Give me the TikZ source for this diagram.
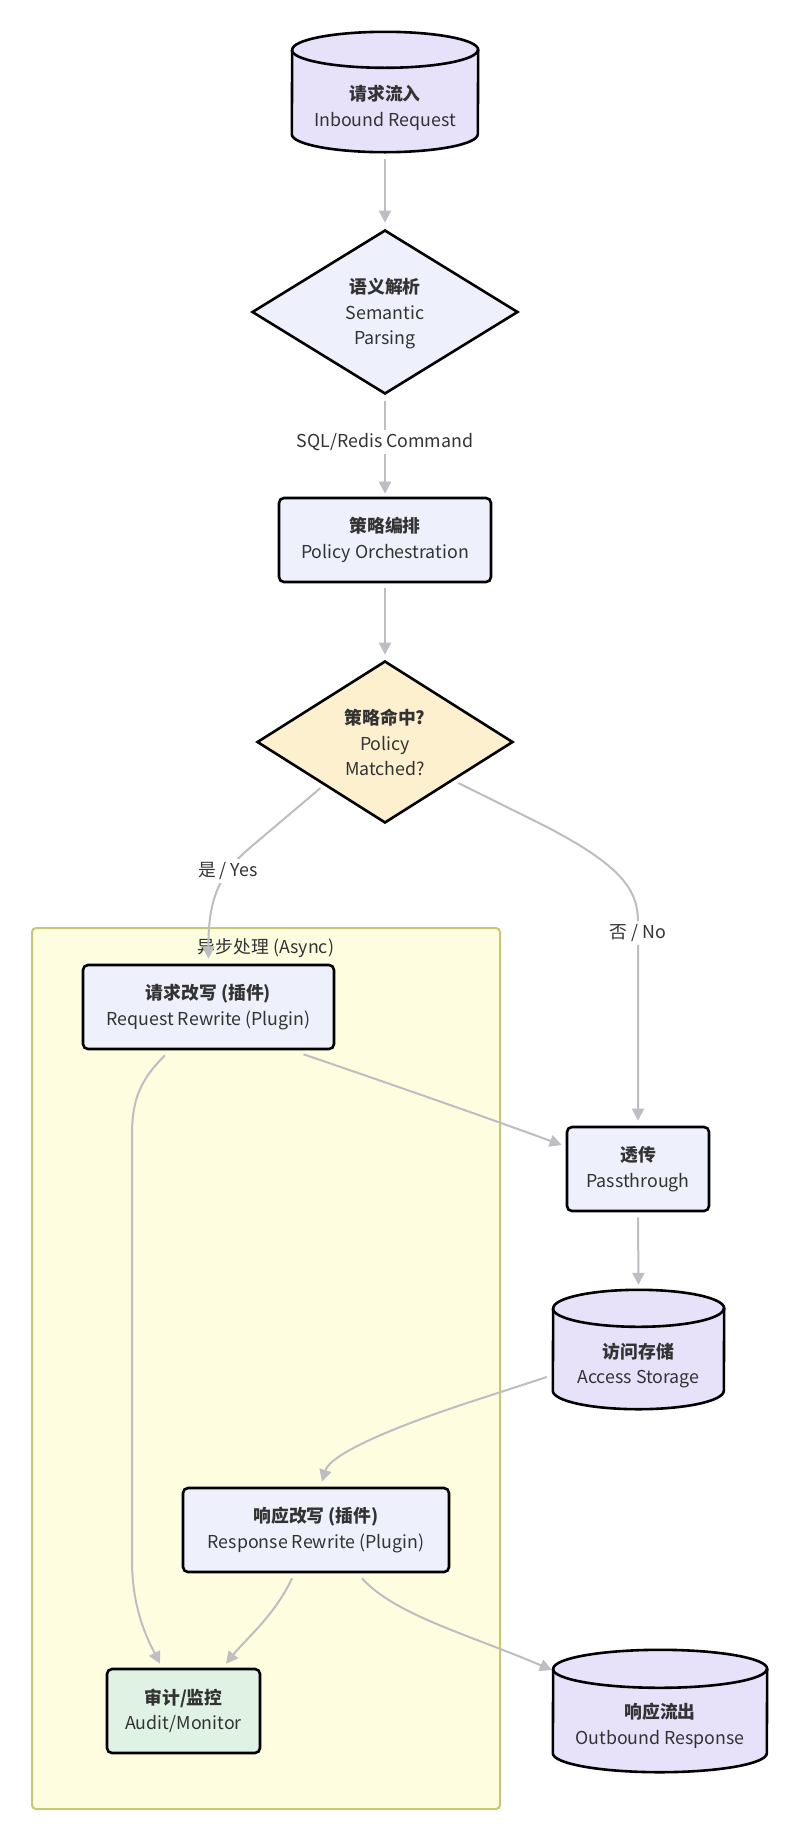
\documentclass[tikz,border=0pt]{standalone}
\usepackage{fontspec}
\setmainfont{Noto Sans CJK SC}
\usetikzlibrary{shapes.geometric,arrows.meta}
\definecolor{boxfill}{HTML}{EEF1FC}
\definecolor{cylfill}{HTML}{E7E2FA}
\definecolor{decfill}{HTML}{FDF0CF}
\definecolor{audfill}{HTML}{DFF2E3}
\definecolor{grpfill}{HTML}{FFFDE0}
\definecolor{grpline}{HTML}{C9C774}
\definecolor{edgecol}{HTML}{BDBDC2}
\definecolor{txt}{HTML}{333333}
\begin{document}
\begin{tikzpicture}[x=1pt,y=-1pt,
  every node/.style={font=\fontsize{17.8pt}{25.5pt}\selectfont, text=txt},
  procbox/.style={draw=black, line width=2.6pt, rounded corners=5pt, fill=boxfill, align=center, inner sep=0pt},
  decbox/.style={diamond, draw=black, line width=2.6pt, fill=boxfill, inner sep=0pt},
  cylnode/.style={inner sep=0pt},
  cylbody/.style={draw=black, line width=2.6pt, fill=cylfill},
  txtlbl/.style={align=center, inner sep=0pt},
  edge/.style={draw=edgecol, line width=2pt, -{Triangle[length=12pt,width=12pt]}},
  elbl/.style={fill=white, inner sep=3pt}
]
\fill[white] (0,0) rectangle (800,1842);
\useasboundingbox (0,0) rectangle (800,1842);

% group
\node[draw=grpline, line width=2pt, fill=grpfill, rounded corners=4pt, minimum width=468pt, minimum height=881pt, inner sep=0pt] (grp) at (266,1368.5) {};
\node[txtlbl] (grpt) at (266,948) {异步处理 (Async)};

% inbound cylinder
\node[cylnode, minimum width=186pt, minimum height=120pt] (inb) at (385,92) {};
\draw[cylbody] ([yshift=18pt]inb.south west) arc[start angle=180,end angle=360,x radius=93pt,y radius=18pt] -- ([yshift=-18pt]inb.north east) arc[start angle=0,end angle=180,x radius=93pt,y radius=18pt] -- cycle;
\draw[black, line width=2.6pt] ([yshift=-18pt]inb.north west) arc[start angle=180,end angle=360,x radius=93pt,y radius=18pt];
\node[txtlbl] (inbt) at (385,108) {\textbf{请求流入}\\Inbound Request};

% semantic diamond
\node[decbox, minimum width=266pt, minimum height=164pt] (sem) at (385,312) {};
\node[txtlbl] (semt) at (385,314) {\textbf{语义解析}\\Semantic\\Parsing};

% orchestration
\node[procbox, minimum width=212pt, minimum height=84pt] (orch) at (385,540) {\textbf{策略编排}\\Policy Orchestration};

% policy matched
\node[decbox, fill=decfill, minimum width=256pt, minimum height=162pt] (pm) at (385,742) {};
\node[txtlbl] (pmt) at (385,742.5) {\textbf{策略命中?}\\Policy\\Matched?};

% request rewrite
\node[procbox, minimum width=251pt, minimum height=84pt] (rr) at (208.5,1007) {\textbf{请求改写 (插件)}\\Request Rewrite (Plugin)};

% passthrough
\node[procbox, minimum width=142pt, minimum height=84pt] (pt) at (638,1169) {\textbf{透传}\\Passthrough};

% access storage
\node[cylnode, minimum width=171pt, minimum height=119pt] (as) at (638.5,1349.5) {};
\draw[cylbody] ([yshift=18.5pt]as.south west) arc[start angle=180,end angle=360,x radius=85.5pt,y radius=18.5pt] -- ([yshift=-18.5pt]as.north east) arc[start angle=0,end angle=180,x radius=85.5pt,y radius=18.5pt] -- cycle;
\draw[black, line width=2.6pt] ([yshift=-18.5pt]as.north west) arc[start angle=180,end angle=360,x radius=85.5pt,y radius=18.5pt];
\node[txtlbl] (ast) at (638.5,1365.5) {\textbf{访问存储}\\Access Storage};

% response rewrite
\node[procbox, minimum width=266pt, minimum height=84pt] (resp) at (316,1530) {\textbf{响应改写 (插件)}\\Response Rewrite (Plugin)};

% audit
\node[procbox, fill=audfill, minimum width=153pt, minimum height=84pt] (aud) at (183.5,1711) {\textbf{审计/监控}\\Audit/Monitor};

% outbound cylinder
\node[cylnode, minimum width=214pt, minimum height=122pt] (ob) at (660,1711) {};
\draw[cylbody] ([yshift=19pt]ob.south west) arc[start angle=180,end angle=360,x radius=107pt,y radius=19pt] -- ([yshift=-19pt]ob.north east) arc[start angle=0,end angle=180,x radius=107pt,y radius=19pt] -- cycle;
\draw[black, line width=2.6pt] ([yshift=-19pt]ob.north west) arc[start angle=180,end angle=360,x radius=107pt,y radius=19pt];
\node[txtlbl] (obt) at (660,1726) {\textbf{响应流出}\\Outbound Response};

% edges
\draw[edge] ([yshift=-7pt]inb.south) -- ([yshift=6pt]sem.north);
\draw[edge] ([yshift=-6pt]sem.south) -- ([yshift=3pt]orch.north) node[elbl, pos=0.44] (l1) {SQL/Redis Command};
\draw[edge] ([yshift=-5pt]orch.south) -- ([yshift=5pt]pm.north);
\draw[edge] ([yshift=-5pt]pm.south west) -- (252,846) .. controls (222,871) and (208,895) .. ([yshift=5pt]rr.north);
\node[elbl] (lyes) at (228,871) {是 / Yes};
\draw[edge] ([xshift=9pt]pm.south east) -- (545,826) .. controls (622,866) and (638,890) .. (638,922) -- ([yshift=5pt]pt.north);
\node[elbl] (lno) at (638,933) {否 / No};
\draw[edge] ([xshift=95pt,yshift=-4pt]rr.south) .. controls (350,1070) and (480,1115) .. ([xshift=-4pt,yshift=24pt]pt.west);
\draw[edge] ([yshift=-5pt]pt.south) -- ([yshift=5pt]as.north);
\draw[edge] ([xshift=-6pt,yshift=-27.5pt]as.west) -- (470,1402) .. controls (385,1430) and (330,1455) .. ([xshift=6pt,yshift=5pt]resp.north);
\draw[edge] ([xshift=-24pt,yshift=-5pt]resp.south) .. controls (275,1615) and (245,1640) .. ([xshift=42.5pt,yshift=4pt]aud.north);
\draw[edge] ([xshift=-43.5pt,yshift=-5pt]rr.south) .. controls (140,1080) and (132,1100) .. (132,1135) -- (132,1560) .. controls (132,1610) and (148,1640) .. ([xshift=-23.5pt,yshift=4pt]aud.north);
\draw[edge] ([xshift=46pt,yshift=-5pt]resp.south) .. controls (395,1615) and (470,1635) .. ([xshift=-1pt,yshift=41pt]ob.west);
\end{tikzpicture}
\end{document}
